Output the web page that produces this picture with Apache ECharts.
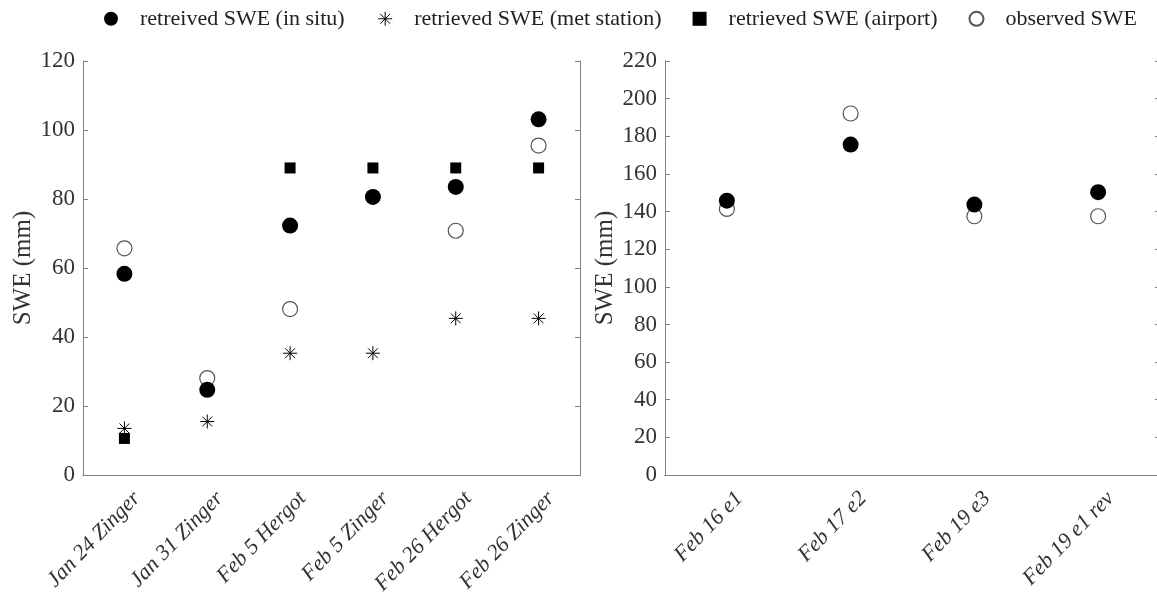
<html>
  <head>
    <title>SWE retrieval</title>
    <script src="https://cdn.jsdelivr.net/npm/echarts@6/dist/echarts.min.js"></script>
  </head>
  <body>
    <div id="chart" style="width: 1157px;height:593px;"></div>
  </body>
</html>
<script type="text/javascript">
  // left panel
  const sitesA = ['Jan 24 Zinger', 'Jan 31 Zinger', 'Feb 5 Hergot', 'Feb 5 Zinger', 'Feb 26 Hergot', 'Feb 26 Zinger']
  const insituA = [58.3, 24.7, 72.3, 80.6, 83.5, 103.1]
  const metA = [13.5, 15.5, 35.3, 35.3, 45.4, 45.4]
  const airportA = [10.6, null, 89, 89, 89, 89]
  const observedA = [65.7, 28.1, 48.1, null, 70.8, 95.5]

  // right panel
  const sitesB = ['Feb 16 e1', 'Feb 17 e2', 'Feb 19 e3', 'Feb 19 e1 rev']
  const insituB = [145.8, 175.6, 143.7, 150.3]
  const observedB = [141.4, 192.1, 137.5, 137.5]

  const names = ['retreived SWE (in situ)', 'retrieved SWE (met station)', 'retrieved SWE (airport)', 'observed SWE']
  const star = 'path://M0,-10L0,10M-10,0L10,0M-7,-7L7,7M-7,7L7,-7'
  const square = 'path://M0,0L10,0L10,10L0,10Z'

  const font = 'Liberation Serif'
  const grey = '#808080'
  const txt = '#333'

  function xAxes(idx, data) {
    return [
      {
        type: 'category', gridIndex: idx, data: data, position: 'bottom',
        axisLine: {lineStyle: {color: grey}},
        axisTick: {inside: true, length: 5, alignWithLabel: true, lineStyle: {color: grey}},
        axisLabel: {rotate: 46, fontFamily: font, fontSize: 22, color: txt, margin: 8,
          fontStyle: 'italic', verticalAlign: 'top'}
      },
      {
        type: 'category', gridIndex: idx, data: data, position: 'top',
        axisLine: {lineStyle: {color: grey}},
        axisTick: {inside: true, length: 5, alignWithLabel: true, lineStyle: {color: grey}},
        axisLabel: {show: false}
      }
    ]
  }

  function yAxes(idx, max) {
    return [
      {
        type: 'value', gridIndex: idx, min: 0, max: max, interval: 20, position: 'left',
        name: 'SWE (mm)', nameLocation: 'middle', nameGap: 40, nameRotate: 90, nameMoveOverlap: false,
        nameTextStyle: {fontFamily: font, fontSize: 25, color: txt},
        axisLine: {show: true, lineStyle: {color: grey}},
        axisTick: {show: true, inside: true, length: 5, lineStyle: {color: grey}},
        axisLabel: {fontFamily: font, fontSize: 23, color: txt, margin: 8},
        splitLine: {show: false}
      },
      {
        type: 'value', gridIndex: idx, min: 0, max: max, interval: 20, position: 'right',
        axisLine: {show: true, lineStyle: {color: grey}},
        axisTick: {show: true, inside: true, length: 5, lineStyle: {color: grey}},
        axisLabel: {show: false},
        splitLine: {show: false}
      }
    ]
  }

  function pts(vals) {
    return vals.map((v, i) => v === null ? null : [i, v])
  }

  const insituStyle = {symbol: 'circle', symbolSize: 16, itemStyle: {color: '#000', opacity: 1}}
  const metStyle = {symbol: star, symbolSize: 14, itemStyle: {color: 'none', borderColor: '#000', borderWidth: 1, opacity: 1}}
  const airportStyle = {symbol: square, symbolSize: 11, itemStyle: {color: '#000', opacity: 1}}
  const obsStyle = {symbol: 'circle', symbolSize: 15, itemStyle: {color: '#fff', borderColor: '#555', borderWidth: 1.2, opacity: 1}}

  const myChart = echarts.init(document.getElementById('chart'))

  let option = {
    animation: false,
    backgroundColor: '#fff',
    legend: {
      left: 104, top: 2, padding: 0,
      itemWidth: 48, itemHeight: 14, itemGap: 31,
      textStyle: {fontFamily: font, fontSize: 22, color: '#222'},
      data: [
        names[0],
        {name: names[1], itemStyle: {borderWidth: 1}},
        names[2],
        names[3]
      ]
    },
    grid: [
      {left: 83, top: 61, width: 497, height: 414, outerBoundsMode: 'none'},
      {left: 665, top: 61, width: 495, height: 414, outerBoundsMode: 'none'}
    ],
    xAxis: [...xAxes(0, sitesA), ...xAxes(1, sitesB)],
    yAxis: [...yAxes(0, 120), ...yAxes(1, 220)],
    series: [
      {name: names[0], type: 'scatter', xAxisIndex: 0, yAxisIndex: 0, data: pts(insituA), ...insituStyle},
      {name: names[1], type: 'scatter', xAxisIndex: 0, yAxisIndex: 0, data: pts(metA), ...metStyle},
      {name: names[2], type: 'scatter', xAxisIndex: 0, yAxisIndex: 0, data: pts(airportA), ...airportStyle},
      {name: names[3], type: 'scatter', xAxisIndex: 0, yAxisIndex: 0, data: pts(observedA), ...obsStyle, z: 1},
      {name: names[0], type: 'scatter', xAxisIndex: 2, yAxisIndex: 2, data: pts(insituB), ...insituStyle},
      {name: names[3], type: 'scatter', xAxisIndex: 2, yAxisIndex: 2, data: pts(observedB), ...obsStyle, z: 1}
    ]
  }

  myChart.setOption(option)
</script>

<style>
    body {
      margin: 0px;
    }
</style>
